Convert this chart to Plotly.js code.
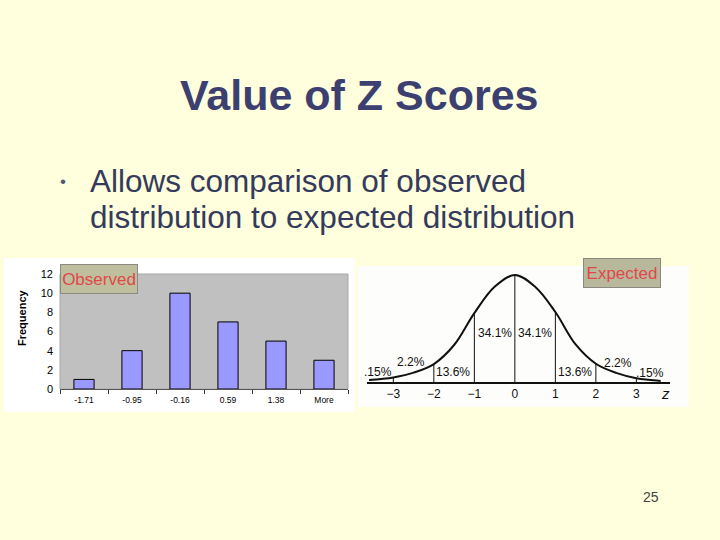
<!DOCTYPE html>
<html>
<head>
<meta charset="utf-8">
<script src="https://cdn.plot.ly/plotly-3.0.1.min.js"></script>
<style>html,body{margin:0;padding:0;background:#FFFFDD;}#chart{width:720px;height:540px;}</style>
</head>
<body>
<div id="chart"></div>
<script>
// ---- Observed histogram data ----
const binLabels = ['-1.71', '-0.95', '-0.16', '0.59', '1.38', 'More'];
const frequencies = [1, 4, 10, 7, 5, 3];
const freqTicks = [0, 2, 4, 6, 8, 10, 12];

// ---- Expected normal curve (density units) ----
const curveZ = [-3.6, -3.3, -3, -2.5, -2, -1.5, -1, -0.5, 0, 0.5, 1, 1.5, 2, 2.5, 3, 3.3, 3.6];
const curveDensity = [0.007, 0.011, 0.017, 0.035, 0.067, 0.138, 0.257, 0.355, 0.399, 0.355, 0.261, 0.14, 0.068, 0.034, 0.014, 0.008, 0.004];
const dividerZ = [-3, -2, -1, 0, 1, 2, 3];
const zTicks = [-3, -2, -1, 0, 1, 2, 3];
const pctLabels = ['.15%', '2.2%', '13.6%', '34.1%', '34.1%', '13.6%', '2.2%', '.15%'];

// ---- text ----
const slideTitle = 'Value of Z Scores';
const bulletLines = ['Allows comparison of observed', 'distribution to expected distribution'];
const pageNumber = '25';

const W = 720, H = 540;
const px = x => x / W;
const py = y => 1 - y / H;
const FONT = 'Liberation Sans, Arial, sans-serif';

// divider segments from curve arrays
const divX = [], divY = [];
dividerZ.forEach(z => {
  const i = curveZ.indexOf(z);
  divX.push(z, z, null);
  divY.push(0, curveDensity[i], null);
});

const traces = [
  {
    type: 'bar', x: binLabels, y: frequencies, xaxis: 'x', yaxis: 'y',
    width: 0.42,
    marker: {color: '#9999FF', line: {color: '#000000', width: 1}},
    hoverinfo: 'x+y'
  },
  {
    type: 'scatter', mode: 'lines', x: curveZ, y: curveDensity, xaxis: 'x2', yaxis: 'y2',
    line: {color: '#111111', width: 2, shape: 'spline', smoothing: 1}
  },
  {
    type: 'scatter', mode: 'lines', x: divX, y: divY, xaxis: 'x2', yaxis: 'y2',
    line: {color: '#111111', width: 1}, connectgaps: false
  }
];

const pctPos = [[-3.38, 0.037], [-2.57, 0.075], [-1.53, 0.037], [-0.49, 0.183],
                [0.49, 0.183], [1.48, 0.037], [2.54, 0.071], [3.33, 0.034]];

const annotations = [
  {text: '<b>' + slideTitle + '</b>', xref: 'paper', yref: 'paper', x: px(359), y: py(95),
   showarrow: false, font: {family: FONT, size: 43, color: '#3C4071'}, xanchor: 'center', yanchor: 'middle'},
  {text: '•', xref: 'paper', yref: 'paper', x: px(63), y: py(181), showarrow: false,
   font: {family: FONT, size: 17, color: '#555577'}, xanchor: 'center', yanchor: 'middle'},
  {text: bulletLines[0], xref: 'paper', yref: 'paper', x: px(88), y: py(181), showarrow: false,
   font: {family: FONT, size: 31.5, color: '#343A5C'}, xanchor: 'left', yanchor: 'middle'},
  {text: bulletLines[1], xref: 'paper', yref: 'paper', x: px(88), y: py(217), showarrow: false,
   font: {family: FONT, size: 31.5, color: '#343A5C'}, xanchor: 'left', yanchor: 'middle'},
  {text: '<b>Frequency</b>', xref: 'paper', yref: 'paper', x: px(22), y: py(318), showarrow: false,
   textangle: -90, font: {family: FONT, size: 11, color: '#000000'}, xanchor: 'center', yanchor: 'middle'},
  {text: 'Observed', xref: 'paper', yref: 'paper', x: px(99), y: py(279), showarrow: false,
   width: 74, height: 26, bgcolor: '#BFBF9F', bordercolor: '#8A8A80', borderwidth: 1, borderpad: 1,
   font: {family: FONT, size: 17, color: '#E04848'}, xanchor: 'center', yanchor: 'middle'},
  {text: 'Expected', xref: 'paper', yref: 'paper', x: px(622), y: py(273), showarrow: false,
   width: 74, height: 26, bgcolor: '#B8B89C', bordercolor: '#8A8A80', borderwidth: 1, borderpad: 1,
   font: {family: FONT, size: 17, color: '#E04848'}, xanchor: 'center', yanchor: 'middle'},
  {text: '<i>z</i>', xref: 'paper', yref: 'paper', x: px(665), y: py(393), showarrow: false,
   font: {family: FONT, size: 15, color: '#111111'}, xanchor: 'center', yanchor: 'middle'},
  {text: pageNumber, xref: 'paper', yref: 'paper', x: px(651), y: py(497), showarrow: false,
   font: {family: FONT, size: 14, color: '#444444'}, xanchor: 'center', yanchor: 'middle'}
];
pctLabels.forEach((t, i) => {
  annotations.push({text: t, xref: 'x2', yref: 'y2', x: pctPos[i][0], y: pctPos[i][1], showarrow: false,
    font: {family: FONT, size: 12, color: '#111111'}, xanchor: 'center', yanchor: 'middle'});
});

const shapes = [
  {type: 'rect', xref: 'paper', yref: 'paper', x0: px(4), x1: px(355), y0: py(412), y1: py(258),
   fillcolor: '#FFFFFF', line: {width: 0}, layer: 'below'},
  {type: 'rect', xref: 'paper', yref: 'paper', x0: px(358), x1: px(689), y0: py(407), y1: py(266),
   fillcolor: '#FDFDFB', line: {width: 0}, layer: 'below'},
  {type: 'rect', xref: 'paper', yref: 'paper', x0: px(60), x1: px(348), y0: py(389), y1: py(274),
   fillcolor: '#C0C0C0', line: {color: '#A8A8A8', width: 1}, layer: 'below'}
];

const layout = {
  width: W, height: H,
  margin: {l: 0, r: 0, t: 0, b: 0},
  paper_bgcolor: '#FFFFDD',
  plot_bgcolor: 'rgba(0,0,0,0)',
  showlegend: false,
  font: {family: FONT},
  xaxis: {
    domain: [px(60), px(348)], anchor: 'y', type: 'category',
    showgrid: false, zeroline: false, showline: true, linecolor: '#555555', linewidth: 1,
    ticks: 'outside', tickson: 'boundaries', ticklen: 4, tickcolor: '#333333',
    ticklabelstandoff: 3,
    tickfont: {family: FONT, size: 8.5, color: '#000000'}, fixedrange: true
  },
  yaxis: {
    domain: [py(389), py(274)], anchor: 'x', range: [0, 12], tickvals: freqTicks,
    showgrid: false, zeroline: false, showline: false, ticks: '',
    ticklabelstandoff: 6,
    tickfont: {family: FONT, size: 11, color: '#000000'}, fixedrange: true
  },
  xaxis2: {
    domain: [px(367), px(670)], anchor: 'y2', range: [-3.65, 3.83],
    tickvals: zTicks, ticktext: zTicks.map(v => v < 0 ? '\u2212' + Math.abs(v) : String(v)),
    showgrid: false, zeroline: false, showline: true, linecolor: '#111111', linewidth: 1.5,
    ticks: '', tickfont: {family: FONT, size: 12, color: '#111111'}, fixedrange: true
  },
  yaxis2: {
    domain: [py(382), py(269.4)], anchor: 'x2', range: [0, 0.42], visible: false, fixedrange: true
  },
  annotations: annotations,
  shapes: shapes
};

Plotly.newPlot('chart', traces, layout, {displayModeBar: false, staticPlot: true});
</script>
</body>
</html>
